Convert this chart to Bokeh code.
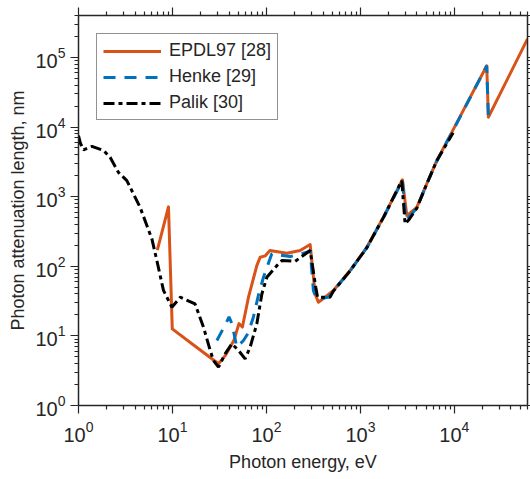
from bokeh.plotting import figure
from bokeh.models import LogAxis, FixedTicker, Range1d
from bokeh.embed import file_html
from bokeh.resources import INLINE

# ---- data (photon energy in eV, attenuation length in nm) ----
epdl_e = [6.9, 9.07, 9.95, 16.1, 28, 31, 36.4, 45, 51, 55.5, 64.4, 79, 85.7, 97, 109, 165, 228, 292,
          330, 357, 421, 516, 777, 1170, 1757, 2800, 3120, 3980, 5080, 6500, 10000, 22100, 23000, 60000]
epdl_l = [170, 713, 12.6, 7.7, 4.4, 4.0, 5.2, 8.6, 15, 13.4, 35.9, 102, 135, 141, 168, 154, 168, 205,
          40, 30.4, 35.9, 44.8, 86.7, 187, 505, 1750, 534, 703, 1523, 3290, 9900, 76000, 13800, 184000]

henke_e = [29.7, 36, 40, 43, 48.4, 57, 64, 72.7, 82, 93, 114, 179, 269, 292, 316, 340, 457,
           516, 777, 1170, 1757, 2800, 3050, 3980, 5080, 6500, 10000, 22100, 23000, 25000]
henke_l = [8.6, 14, 18.7, 14.9, 6.9, 8.6, 11, 18.7, 38, 69.5, 151, 138, 159, 168, 45, 34, 36,
           44, 86, 185, 500, 1700, 450, 690, 1510, 3250, 9700, 76000, 14000, 17000]

palik_e = [1.0, 1.05, 1.13, 1.39, 1.85, 2.17, 2.66, 3.27, 4.53, 6.04, 6.82, 8.02, 9.86, 12.1, 17.4,
           21.4, 25.2, 27.3, 30.9, 36.3, 42.9, 50.4, 59.3, 67.1, 79, 89.4, 101, 129, 146, 202, 292,
           335, 350, 476, 516, 777, 1170, 1757, 2755, 2990, 3300, 3980, 5080, 6500, 9700]
palik_l = [7500, 5800, 4700, 5280, 4600, 3670, 2230, 1700, 700, 247, 121, 45, 25.8, 35.9, 28.8,
           13.3, 6.2, 4.43, 3.55, 5.5, 7.69, 6.2, 4.68, 6.9, 14.9, 40, 69.5, 102, 121, 118, 168,
           50, 36, 36, 44, 86, 185, 500, 1700, 406, 470, 680, 1520, 3290, 8300]

x_major = [1, 10, 100, 1000, 10000]
y_major = [1, 10, 100, 1000, 10000, 100000]

FONT = "Liberation Sans"
INK = "#262626"

def minors(majors, top):
    out = []
    for m in majors:
        for k in range(2, 10):
            if m * k <= top:
                out.append(m * k)
    return out

xt = FixedTicker(ticks=x_major, minor_ticks=minors(x_major, 6e4))
yt = FixedTicker(ticks=y_major, minor_ticks=minors(y_major, 4e5))

p = figure(width=530, height=479, x_axis_type="log", y_axis_type="log",
           x_range=Range1d(1, 6e4), y_range=Range1d(1, 4e5),
           output_backend="svg", toolbar_location=None,
           min_border_left=78, min_border_right=2, min_border_top=15, min_border_bottom=74)
p.outline_line_color = None
p.grid.visible = False
p.background_fill_color = "white"

def style_axis(ax, labels=True):
    ax.axis_line_color = INK
    ax.axis_line_width = 1.5
    ax.major_tick_line_color = INK
    ax.minor_tick_line_color = INK
    ax.major_tick_line_width = 1.2
    ax.minor_tick_line_width = 1.2
    ax.major_tick_in = 0
    ax.minor_tick_in = 0
    ax.major_tick_out = 8
    ax.minor_tick_out = 4
    if labels:
        ax.major_label_text_font = FONT
        ax.major_label_text_font_size = "20px"
        ax.major_label_text_color = INK
        ax.axis_label_text_font = FONT
        ax.axis_label_text_font_size = "18px"
        ax.axis_label_text_font_style = "normal"
        ax.axis_label_text_color = INK
    else:
        ax.major_label_text_font_size = "1px"
        ax.major_label_text_alpha = 0
        ax.major_label_standoff = 0

xa = p.xaxis[0]
xa.ticker = xt
xa.axis_label = "Photon energy, eV"
style_axis(xa)
xa.major_label_standoff = 7
xa.axis_label_standoff = 7
ya = p.yaxis[0]
ya.ticker = yt
ya.axis_label = "Photon attenuation length, nm"
style_axis(ya)
ya.major_label_standoff = 5
ya.axis_label_standoff = 4

top_ax = LogAxis(ticker=xt)
style_axis(top_ax, labels=False)
p.add_layout(top_ax, "above")
right_ax = LogAxis(ticker=yt)
style_axis(right_ax, labels=False)
right_ax.major_tick_out = 3
right_ax.minor_tick_out = 3
p.add_layout(right_ax, "right")

p.line(epdl_e, epdl_l, line_color="#D95319", line_width=3, line_join="round",
       legend_label="EPDL97 [28]")
p.line(henke_e, henke_l, line_color="#0072BD", line_width=3, line_dash="12 9",
       legend_label="Henke [29]")
p.line(palik_e, palik_l, line_color="black", line_width=3, line_dash="11 4 4 4",
       legend_label="Palik [30]")

lg = p.legend[0]
lg.location = "top_left"
lg.margin = 18
lg.padding = 6
lg.spacing = 5
lg.glyph_width = 58
lg.glyph_height = 20
lg.label_height = 20
lg.label_standoff = 8
lg.label_text_font = FONT
lg.label_text_font_size = "18px"
lg.label_text_color = INK
lg.border_line_color = INK
lg.border_line_width = 1.5
lg.background_fill_alpha = 1.0

open("out.html", "w").write(file_html(p, INLINE))
